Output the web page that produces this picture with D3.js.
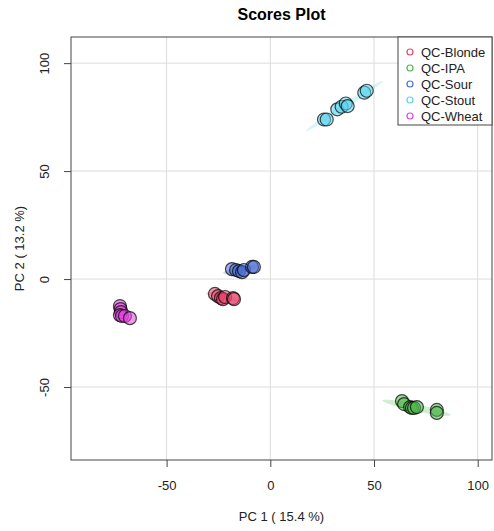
<!DOCTYPE html>
<html>
<head>
<meta charset="utf-8">
<script src="https://cdn.jsdelivr.net/npm/d3@7"></script>
<style>
  body { margin: 0; background: #fff; }
  text { font-family: "Liberation Sans", Arial, sans-serif; }
</style>
</head>
<body>
<svg id="chart"></svg>
<script>
// Groups and colours
var groups = ['QC-Blonde', 'QC-IPA', 'QC-Sour', 'QC-Stout', 'QC-Wheat'];
var colors = ['#e8456e', '#4fb84a', '#4a6ed4', '#5ad3ec', '#e046dc'];

// Scores (PC1, PC2)
var blonde = [[-26.7, -6.9], [-25.2, -7.9], [-23.8, -8.8], [-22.8, -9.3], [-21.8, -8.3], [-18.0, -8.8], [-17.5, -9.3]];
var ipa    = [[63.5, -56.5], [64.5, -57.9], [67.4, -59.3], [68.3, -59.7], [69.3, -59.7], [70.7, -59.3], [80.3, -60.6], [80.3, -62.0]];
var sour   = [[-18.5, 4.6], [-16.5, 4.2], [-15.1, 3.7], [-13.6, 3.2], [-12.7, 4.2], [-8.8, 5.6], [-7.9, 5.6]];
var stout  = [[25.9, 73.9], [27.2, 73.9], [32.3, 78.6], [34.4, 79.8], [36.4, 81.3], [37.3, 80.1], [45.3, 86.3], [46.5, 87.2]];
var wheat  = [[-72.5, -12.5], [-72.2, -13.9], [-72.0, -15.3], [-72.5, -16.7], [-71.5, -17.1], [-70.1, -17.1], [-67.7, -18.1]];
var scores = [blonde, ipa, sour, stout, wheat];

// Confidence ellipses: centre, major half-axis vector, minor half-axis vector (data units)
var ellCenter = [[-22.8, -8.3], [70.5, -59.6], [-14.4, 4.4], [35.8, 80.2], [-71.5, -15.5]];
var ellMajor  = [[8.2, -1.85], [16.5, -3.4], [8.4, 1.6], [18.6, 11.6], [1.5, 3.5]];
var ellMinor  = [[-0.3, -1.3], [-0.36, -1.6], [0.3, -1.3], [0.7, -1.0], [1.2, -0.5]];

var xTicks = [-50, 0, 50, 100];
var yTicks = [-50, 0, 50, 100];

var W = 494, H = 531;
var margin = { top: 37, right: 2, bottom: 71, left: 71 };
var width = W - margin.left - margin.right;
var height = H - margin.top - margin.bottom;

var x = d3.scaleLinear().domain([-96.1, 106.9]).range([0, width]);
var y = d3.scaleLinear().domain([-83.8, 112.1]).range([height, 0]);

var svg = d3.select('#chart').attr('width', W).attr('height', H);
var g = svg.append('g').attr('transform', 'translate(' + margin.left + ',' + margin.top + ')');

// Grid
g.selectAll('line.vgrid').data(xTicks).enter().append('line')
  .attr('x1', function (d) { return x(d); }).attr('x2', function (d) { return x(d); })
  .attr('y1', 0).attr('y2', height)
  .attr('stroke', '#dcdcdc').attr('stroke-width', 1);
g.selectAll('line.hgrid').data(yTicks).enter().append('line')
  .attr('y1', function (d) { return y(d); }).attr('y2', function (d) { return y(d); })
  .attr('x1', 0).attr('x2', width)
  .attr('stroke', '#dcdcdc').attr('stroke-width', 1);

// Ellipses
var ellLine = d3.line().x(function (d) { return x(d[0]); }).y(function (d) { return y(d[1]); }).curve(d3.curveLinearClosed);
groups.forEach(function (name, i) {
  var c = ellCenter[i], a = ellMajor[i], b = ellMinor[i];
  var pts = d3.range(0, 72).map(function (k) {
    var t = k / 72 * 2 * Math.PI;
    return [c[0] + Math.cos(t) * a[0] + Math.sin(t) * b[0], c[1] + Math.cos(t) * a[1] + Math.sin(t) * b[1]];
  });
  g.append('path').attr('d', ellLine(pts))
    .attr('fill', colors[i]).attr('fill-opacity', 0.25).attr('stroke', 'none');
});

// Points
groups.forEach(function (name, i) {
  g.selectAll('circle.g' + i).data(scores[i]).enter().append('circle')
    .attr('class', 'g' + i)
    .attr('cx', function (d) { return x(d[0]); })
    .attr('cy', function (d) { return y(d[1]); })
    .attr('r', 6.5)
    .attr('fill', colors[i]).attr('fill-opacity', 0.55)
    .attr('stroke', '#000').attr('stroke-opacity', 0.7).attr('stroke-width', 1.2);
});

// Box
g.append('rect').attr('x', 0).attr('y', 0).attr('width', width).attr('height', height)
  .attr('fill', 'none').attr('stroke', '#444').attr('stroke-width', 1);

// Axes
var fmt = function (d) { return String(d); };
var xAxis = g.append('g').attr('transform', 'translate(0,' + height + ')')
  .call(d3.axisBottom(x).tickValues(xTicks).tickSize(7).tickPadding(14).tickFormat(fmt));
var yAxis = g.append('g')
  .call(d3.axisLeft(y).tickValues(yTicks).tickSize(7).tickPadding(11).tickFormat(fmt));
[xAxis, yAxis].forEach(function (ax) {
  ax.select('.domain').remove();
  ax.selectAll('.tick line').attr('stroke', '#444');
  ax.selectAll('.tick text').attr('fill', '#222').style('font-size', '13px')
    .style('font-family', '"Liberation Sans", Arial, sans-serif');
});
yAxis.selectAll('.tick text')
  .attr('transform', function () { return 'rotate(-90,' + d3.select(this).attr('x') + ',0)'; })
  .attr('text-anchor', 'middle').attr('dy', '-0.3em');

// Title and axis labels
svg.append('text').attr('x', margin.left + width / 2).attr('y', 20)
  .attr('text-anchor', 'middle').style('font-size', '16px').style('font-weight', 'bold')
  .text('Scores Plot');
svg.append('text').attr('x', margin.left + width / 2).attr('y', 521)
  .attr('text-anchor', 'middle').style('font-size', '13px').attr('fill', '#222')
  .text('PC 1 ( 15.4 %)');
svg.append('text').attr('transform', 'translate(24,' + (margin.top + height / 2) + ') rotate(-90)')
  .attr('text-anchor', 'middle').style('font-size', '13px').attr('fill', '#222')
  .text('PC 2 ( 13.2 %)');

// Legend
var leg = g.append('g').attr('transform', 'translate(' + (width - 94) + ',0)');
leg.append('rect').attr('width', 94).attr('height', 88)
  .attr('fill', '#fff').attr('stroke', '#444').attr('stroke-width', 1);
groups.forEach(function (name, i) {
  leg.append('circle').attr('cx', 12).attr('cy', 15 + i * 16).attr('r', 3)
    .attr('fill', 'none').attr('stroke', colors[i]).attr('stroke-width', 1.2);
  leg.append('text').attr('x', 23).attr('y', 19.5 + i * 16)
    .style('font-size', '13px').attr('fill', '#222').text(name);
});
</script>
</body>
</html>
